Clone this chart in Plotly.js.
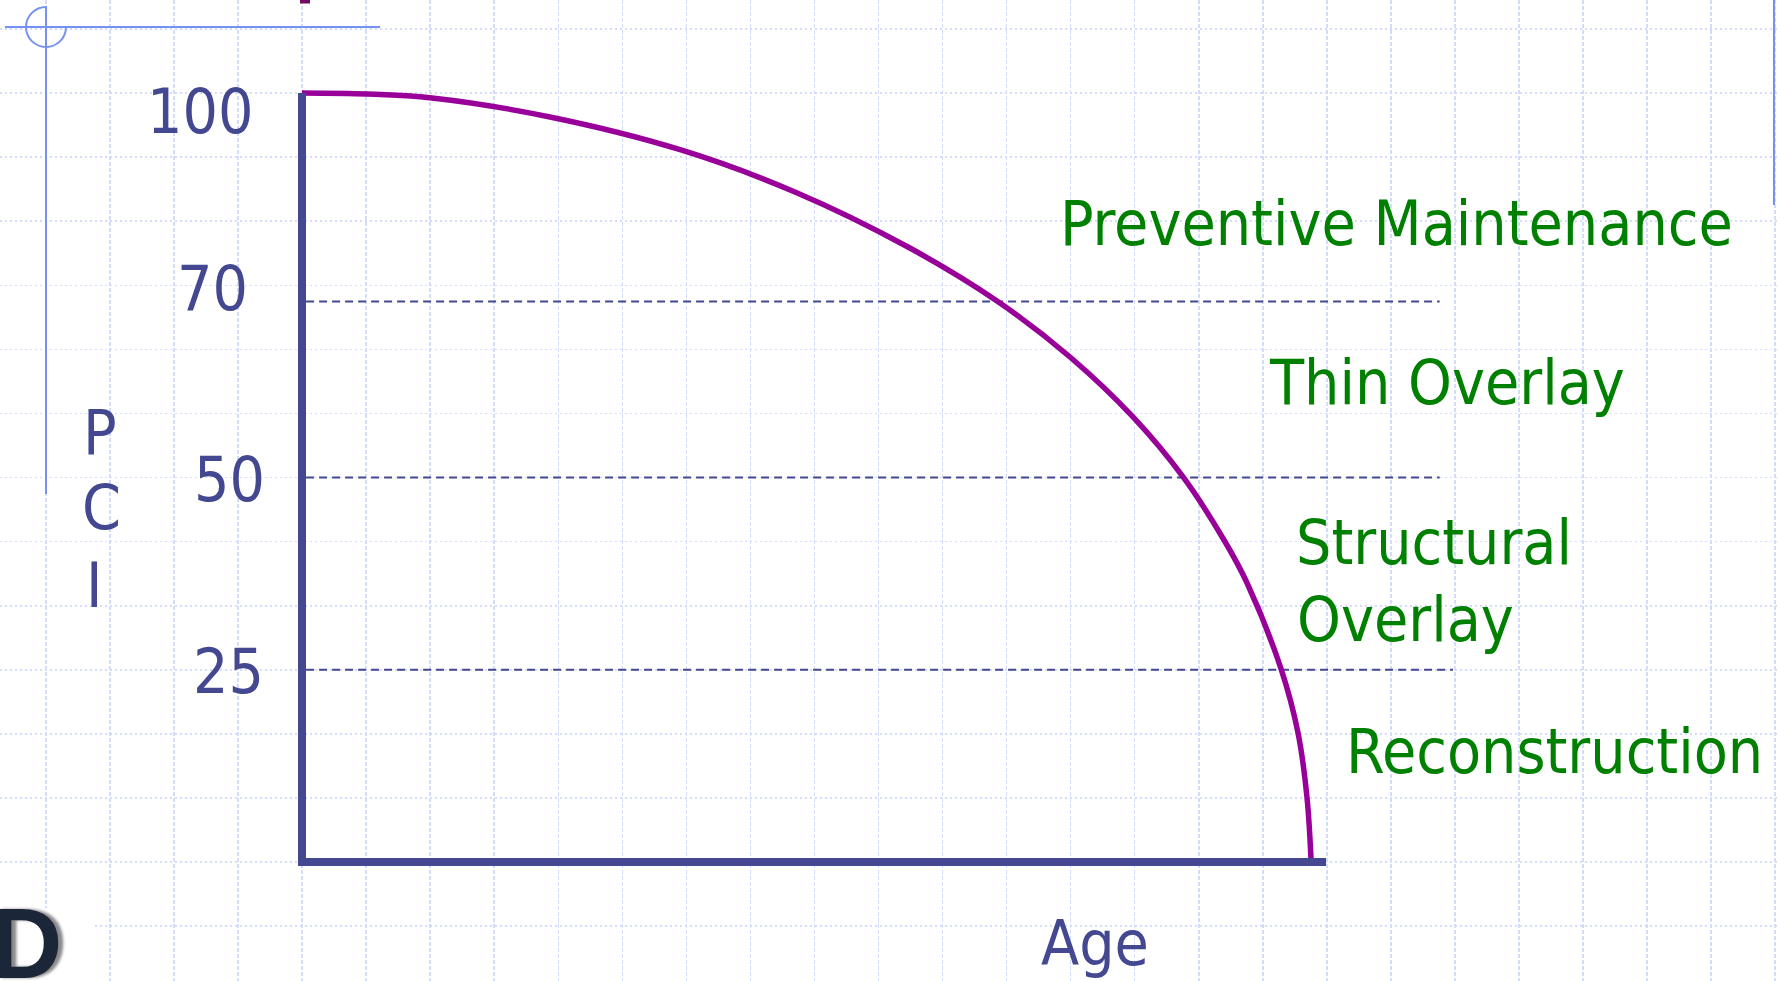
<!DOCTYPE html>
<html>
<head>
<meta charset="utf-8">
<script src="https://cdn.plot.ly/plotly-3.0.1.min.js"></script>
<style>
  html, body { margin: 0; padding: 0; background: #ffffff; overflow: hidden; }
  #chart { width: 1780px; height: 981px; }
</style>
</head>
<body>
<div id="chart"></div>
<script>
// ---------------- data ----------------
// PCI deterioration curve: Age (as % of the age axis) vs PCI
const ageValues = [0, 6.35, 12.70, 24.22, 37.01, 48.14, 59.18, 67.87, 75.00, 81.15, 86.04, 90.04, 92.29, 95.61, 97.27, 98.14, 98.54];
const pciValues = [100, 99.87, 99.35, 96.88, 92.59, 87.13, 79.97, 72.95, 65.67, 57.87, 50.07, 41.87, 36.28, 25.10, 16.77, 8.45, 0.26];

// treatment threshold lines (label as printed, PCI level where the line is drawn, age where it ends)
const thresholdLabels = ["70", "50", "25"];
const thresholdPCI = [72.9, 50, 25];
const thresholdEndAge = [111.1, 111.1, 112.4];

const topTickLabel = "100";
const treatmentLabels = ["Preventive Maintenance", "Thin Overlay", "Structural", "Overlay", "Reconstruction"];
const yTitleLetters = ["P", "C", "I"];
const xTitleText = "Age";

// ---------------- styling / layout ----------------
const W = 1780, H = 981;
const NAVY = '#434891';
const GREEN = '#008000';
const PURPLE = '#990099';
const DECO = '#7591f2';
const GRID = '#d3dcf9';
const FONT = 'DejaVu Sans Condensed, DejaVu Sans, sans-serif';
const FS = 62;

// pixel anchors of the chart's axes on the page
const AGE0_PX = 302, PX_PER_AGE = 10.24;
const PCI0_PX = 862, PX_PER_PCI = 7.69;

const traces = [];
// empty trace to create the page-pixel subplot (background grid)
traces.push({x: [], y: [], xaxis: 'x', yaxis: 'y', type: 'scatter', mode: 'lines', hoverinfo: 'skip', showlegend: false});

thresholdPCI.forEach((v, i) => {
  traces.push({
    x: [0.4, thresholdEndAge[i]], y: [v, v],
    xaxis: 'x2', yaxis: 'y2', type: 'scatter', mode: 'lines',
    line: {color: NAVY, width: 2, dash: '8px,5px'},
    hoverinfo: 'skip', showlegend: false
  });
});

traces.push({
  x: ageValues, y: pciValues,
  xaxis: 'x2', yaxis: 'y2', type: 'scatter', mode: 'lines',
  line: {color: PURPLE, width: 5.5, shape: 'spline', smoothing: 1},
  hoverinfo: 'skip', showlegend: false
});

function txt(text, x, y, color) {
  return {
    text: text, x: x, y: y, xref: 'x', yref: 'y',
    xanchor: 'center', yanchor: 'middle',
    showarrow: false, font: {family: FONT, size: FS, color: color}
  };
}

const annotations = [
  txt(topTickLabel, 200, 111.5, NAVY),
  txt(thresholdLabels[0], 212.5, 288.5, NAVY),
  txt(thresholdLabels[1], 229, 479, NAVY),
  txt(thresholdLabels[2], 228, 671, NAVY),
  txt(yTitleLetters[0], 100, 432, NAVY),
  txt(yTitleLetters[1], 101.5, 507.5, NAVY),
  txt(yTitleLetters[2], 93.5, 585, NAVY),
  txt(xTitleText, 1095, 943.5, NAVY),
  txt(treatmentLabels[0], 1396, 223, GREEN),
  txt(treatmentLabels[1], 1446.7, 382.5, GREEN),
  txt(treatmentLabels[2], 1433.5, 542, GREEN),
  txt(treatmentLabels[3], 1405, 619, GREEN),
  txt(treatmentLabels[4], 1554, 751.5, GREEN),
  // partial logo text at the bottom-left corner of the slide
  {text: '<b>AD</b>', x: 64, y: 885, xref: 'x', yref: 'y', xanchor: 'right', yanchor: 'top', showarrow: false,
   font: {family: 'Liberation Sans Narrow, Liberation Sans, sans-serif', size: 100, color: '#1b2638',
          shadow: '5px 0px 3px #8a8a8a'}}
];

const k = 11.05; // bezier quarter-circle handle for r = 20
const shapes = [
  // chart axes (L shape with a square corner)
  {type: 'path', xref: 'x2', yref: 'y2', path: 'M 0,100 L 0,0 L 100,0', line: {color: NAVY, width: 8}, layer: 'above'},
  // slide decorations (page pixels)
  {type: 'line', xref: 'x', yref: 'y', x0: 5, x1: 380, y0: 27, y1: 27, line: {color: DECO, width: 2}, layer: 'above'},
  {type: 'line', xref: 'x', yref: 'y', x0: 46, x1: 46, y0: 6, y1: 494, line: {color: DECO, width: 2}, layer: 'above'},
  {type: 'path', xref: 'x', yref: 'y',
   path: 'M 46,7 C ' + (46 - k) + ',7 26,' + (27 - k) + ' 26,27 C 26,' + (27 + k) + ' ' + (46 - k) + ',47 46,47 C ' + (46 + k) + ',47 66,' + (27 + k) + ' 66,27',
   line: {color: DECO, width: 2}, layer: 'above'},
  {type: 'line', xref: 'x', yref: 'y', x0: 1774, x1: 1774, y0: 0, y1: 205, line: {color: DECO, width: 2}, layer: 'above'},
  {type: 'rect', xref: 'x', yref: 'y', x0: 300, x1: 310, y0: 0, y1: 3.5, fillcolor: '#700a64', line: {width: 0}, layer: 'above'},
  {type: 'rect', xref: 'x', yref: 'y', x0: 0, x1: 92, y0: 908, y1: 981, fillcolor: '#ffffff', line: {width: 0}, layer: 'above'}
];

const layout = {
  width: W, height: H,
  margin: {l: 0, r: 0, t: 0, b: 0, pad: 0},
  paper_bgcolor: '#ffffff', plot_bgcolor: 'rgba(0,0,0,0)',
  showlegend: false,
  xaxis: {
    domain: [0, 1], range: [0, W], autorange: false, fixedrange: true,
    showgrid: true, tickmode: 'linear', tick0: 46, dtick: 64.04,
    gridcolor: GRID, gridwidth: 1.6, griddash: '4px,2px',
    showticklabels: false, ticks: '', zeroline: false, showline: false
  },
  yaxis: {
    domain: [0, 1], range: [H, 0], autorange: false, fixedrange: true,
    showgrid: true, tickmode: 'linear', tick0: 29, dtick: 64.08,
    gridcolor: GRID, gridwidth: 1.6, griddash: '2px,3px',
    showticklabels: false, ticks: '', zeroline: false, showline: false
  },
  xaxis2: {
    overlaying: 'x', anchor: 'y2', autorange: false, fixedrange: true,
    range: [(0 - AGE0_PX) / PX_PER_AGE, (W - AGE0_PX) / PX_PER_AGE],
    showgrid: false, showticklabels: false, ticks: '', zeroline: false, showline: false
  },
  yaxis2: {
    overlaying: 'y', anchor: 'x2', autorange: false, fixedrange: true,
    range: [(PCI0_PX - H) / PX_PER_PCI, PCI0_PX / PX_PER_PCI],
    showgrid: false, showticklabels: false, ticks: '', zeroline: false, showline: false
  },
  shapes: shapes,
  annotations: annotations
};

Plotly.newPlot('chart', traces, layout, {staticPlot: true, displayModeBar: false, responsive: false});
</script>
</body>
</html>
